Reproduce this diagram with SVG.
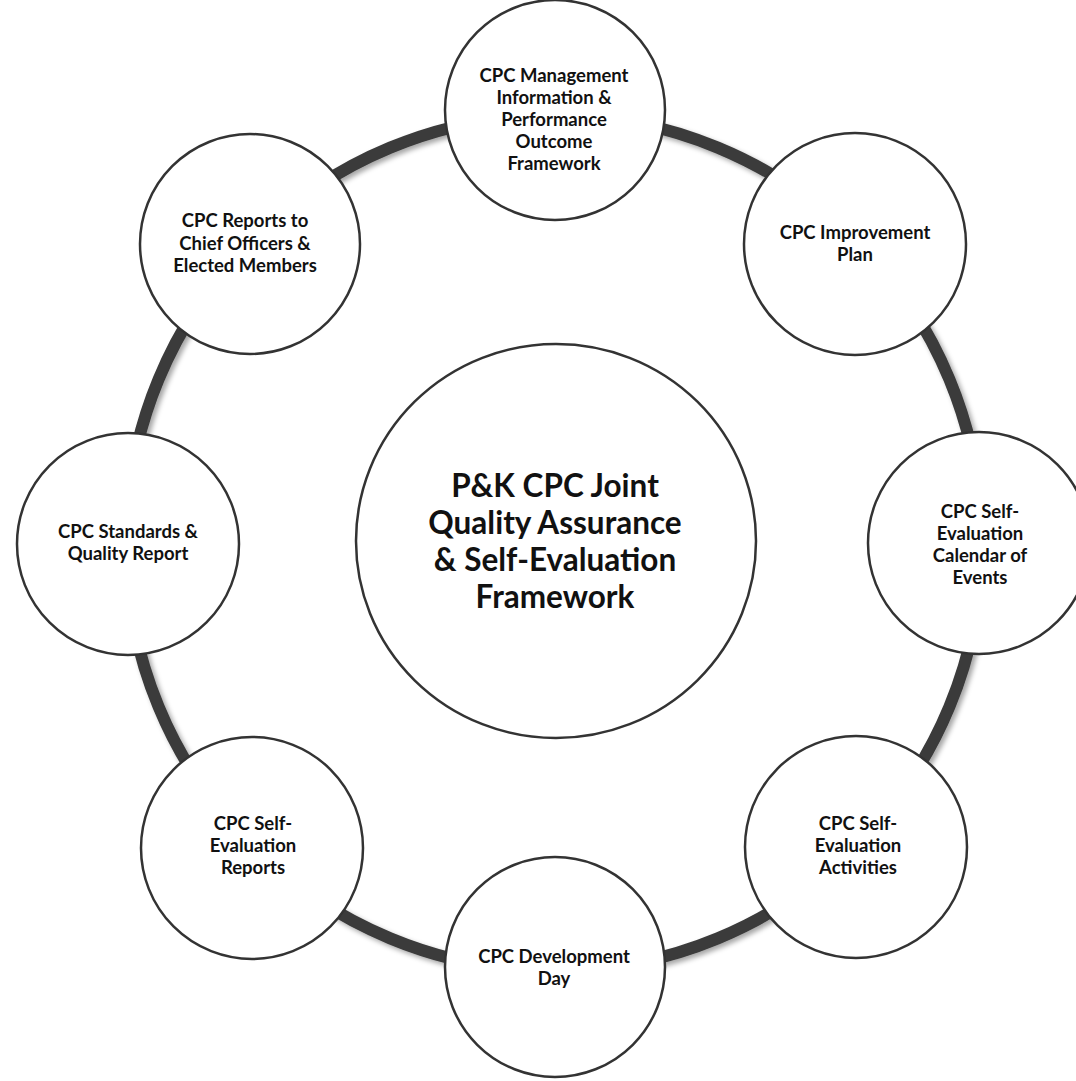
<svg xmlns="http://www.w3.org/2000/svg" width="1076" height="1081" viewBox="0 0 1076 1081">
<defs>
<filter id="sh" x="-10%" y="-10%" width="120%" height="120%">
<feDropShadow dx="3" dy="3" stdDeviation="2.5" flood-color="#000" flood-opacity="0.35"/>
</filter>
<style>
.ring{fill:none;stroke:#3b3b3b;stroke-width:12}
.node{fill:#fff;stroke:#333;stroke-width:2.5}
.t{font-family:Lato,"Open Sans","Liberation Sans",sans-serif;font-weight:700;font-size:18.5px;fill:#111;text-anchor:middle}
.tc{font-family:Lato,"Open Sans","Liberation Sans",sans-serif;font-weight:700;font-size:31.5px;fill:#111;text-anchor:middle}
</style>
</defs>
<rect width="1076" height="1081" fill="#fff"/>
<g id="connectors" filter="url(#sh)">
<path class="ring" d="M554 115 A428 428 0 0 1 856.6 240.4"/>
<path class="ring" d="M856.6 240.4 A428 428 0 0 1 982 543"/>
<path class="ring" d="M982 543 A428 428 0 0 1 856.6 845.6"/>
<path class="ring" d="M856.6 845.6 A428 428 0 0 1 554 971"/>
<path class="ring" d="M554 971 A428 428 0 0 1 251.4 845.6"/>
<path class="ring" d="M251.4 845.6 A428 428 0 0 1 126 543"/>
<path class="ring" d="M126 543 A428 428 0 0 1 251.4 240.4"/>
<path class="ring" d="M251.4 240.4 A428 428 0 0 1 554 115"/>
</g>
<g id="center">
<ellipse class="node" cx="556" cy="541" rx="200" ry="197"/>
<text class="tc"><tspan x="555" y="497">P&amp;K CPC Joint</tspan><tspan x="555" y="534">Quality Assurance</tspan><tspan x="555" y="571">&amp; Self-Evaluation</tspan><tspan x="555" y="608">Framework</tspan></text>
</g>
<g id="n-top">
<circle class="node" cx="555" cy="110" r="110"/>
<text class="t"><tspan x="554" y="82">CPC Management</tspan><tspan x="554" y="104">Information &amp;</tspan><tspan x="554" y="126">Performance</tspan><tspan x="554" y="148">Outcome</tspan><tspan x="554" y="170">Framework</tspan></text>
</g>
<g id="n-topright">
<circle class="node" cx="855" cy="244" r="111"/>
<text class="t"><tspan x="855" y="239">CPC Improvement</tspan><tspan x="855" y="261">Plan</tspan></text>
</g>
<g id="n-right">
<circle class="node" cx="979" cy="543" r="111"/>
<text class="t"><tspan x="980" y="518">CPC Self-</tspan><tspan x="980" y="540">Evaluation</tspan><tspan x="980" y="562">Calendar of</tspan><tspan x="980" y="584">Events</tspan></text>
</g>
<g id="n-bottomright">
<circle class="node" cx="856" cy="847" r="111"/>
<text class="t"><tspan x="858" y="830">CPC Self-</tspan><tspan x="858" y="852">Evaluation</tspan><tspan x="858" y="874">Activities</tspan></text>
</g>
<g id="n-bottom">
<circle class="node" cx="555" cy="967" r="110"/>
<text class="t"><tspan x="554" y="963">CPC Development</tspan><tspan x="554" y="985">Day</tspan></text>
</g>
<g id="n-bottomleft">
<circle class="node" cx="252" cy="848" r="111"/>
<text class="t"><tspan x="253" y="830">CPC Self-</tspan><tspan x="253" y="852">Evaluation</tspan><tspan x="253" y="874">Reports</tspan></text>
</g>
<g id="n-left">
<circle class="node" cx="128" cy="544" r="111"/>
<text class="t"><tspan x="128" y="538">CPC Standards &amp;</tspan><tspan x="128" y="560">Quality Report</tspan></text>
</g>
<g id="n-topleft">
<circle class="node" cx="250" cy="244" r="110"/>
<text class="t"><tspan x="245" y="227">CPC Reports to</tspan><tspan x="245" y="250">Chief Officers &amp;</tspan><tspan x="245" y="272">Elected Members</tspan></text>
</g>
</svg>
